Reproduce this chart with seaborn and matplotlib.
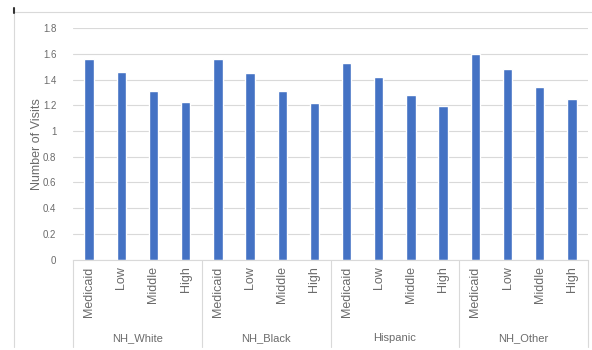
import matplotlib
matplotlib.use("Agg")
import matplotlib.pyplot as plt
import matplotlib.transforms as mtransforms
from matplotlib.lines import Line2D
import seaborn as sns
import pandas as pd

groups = ["NH_White", "NH_Black", "Hispanic", "NH_Other"]
levels = ["Medicaid", "Low", "Middle", "High"]
nh_white = [1.564, 1.461, 1.314, 1.226]
nh_black = [1.564, 1.453, 1.314, 1.215]
hispanic = [1.528, 1.422, 1.283, 1.198]
nh_other = [1.598, 1.484, 1.345, 1.252]
yticks = [0, 0.2, 0.4, 0.6, 0.8, 1, 1.2, 1.4, 1.6, 1.8]
ytick_labels = ["0", "0.2", "0.4", "0.6", "0.8", "1", "1.2", "1.4", "1.6", "1.8"]

series = [nh_white, nh_black, hispanic, nh_other]
rows = []
for g, vals in zip(groups, series):
    for lv, v in zip(levels, vals):
        rows.append({"key": f"{g}|{lv}", "group": g, "level": lv, "value": v})
df = pd.DataFrame(rows)

sns.set_theme(style="white")
plt.rcParams["font.family"] = ["Liberation Sans", "DejaVu Sans"]

W, H = 592, 350
fig = plt.figure(figsize=(W / 100, H / 100), dpi=100)
ax_left, ax_right = 73, 588
ax = fig.add_axes([ax_left / W, 1 - 259.5 / H, (ax_right - ax_left) / W, (259.5 - 28.3) / H])

sns.barplot(data=df, x="key", y="value", color="#4472C4", width=0.29,
            saturation=1, ax=ax, order=list(df["key"]))

txt = "#6b6b6b"
ax.set_ylim(0, 1.8)
ax.set_yticks(yticks)
ax.set_yticklabels(ytick_labels, color=txt, fontsize=7)
ax.yaxis.grid(True, color="#D9D9D9", linewidth=0.8)
ax.set_axisbelow(True)
ax.tick_params(axis="y", length=0, pad=12)
ax.tick_params(axis="x", length=0, pad=5)
ax.set_xticks(range(len(df)))
ax.set_xticklabels(df["level"], rotation=90, color=txt, fontsize=9, va="top")
ax.set_xlabel("")
ax.set_ylabel("Number of Visits", color=txt, fontsize=9, va="center")
ax.yaxis.set_label_coords((37 - ax_left) / (ax_right - ax_left), 0.5)
ax.set_xlim(-0.5, len(df) - 0.5)
for s in ["top", "right", "left"]:
    ax.spines[s].set_visible(False)
ax.spines["bottom"].set_color("#D9D9D9")
ax.spines["bottom"].set_linewidth(0.8)

# group labels and separators
trans = mtransforms.blended_transform_factory(ax.transData, fig.transFigure)
n = len(levels)
y_bottom = 1 - 347 / H
y_top = 1 - 259.5 / H
for i in range(len(groups) + 1):
    xs = i * n - 0.5
    fig.add_artist(Line2D([xs, xs], [y_bottom, y_top], transform=trans,
                          color="#D9D9D9", linewidth=0.8))
for i, g in enumerate(groups):
    center = i * n + (n - 1) / 2
    fig.text(center, 1 - 338 / H, g, transform=trans, ha="center", va="center",
             color=txt, fontsize=8)

# chart frame
fig.add_artist(Line2D([14 / W, 1], [1 - 12 / H, 1 - 12 / H], transform=fig.transFigure,
                      color="#D9D9D9", linewidth=0.8))
fig.add_artist(Line2D([14 / W, 14 / W], [1 - 12 / H, 1 - 347 / H], transform=fig.transFigure,
                      color="#D9D9D9", linewidth=0.8))
fig.add_artist(Line2D([14 / W, 14 / W], [1 - 8 / H, 1 - 13 / H], transform=fig.transFigure,
                      color="#333333", linewidth=1.5))

fig.savefig("out.png", dpi=100)
